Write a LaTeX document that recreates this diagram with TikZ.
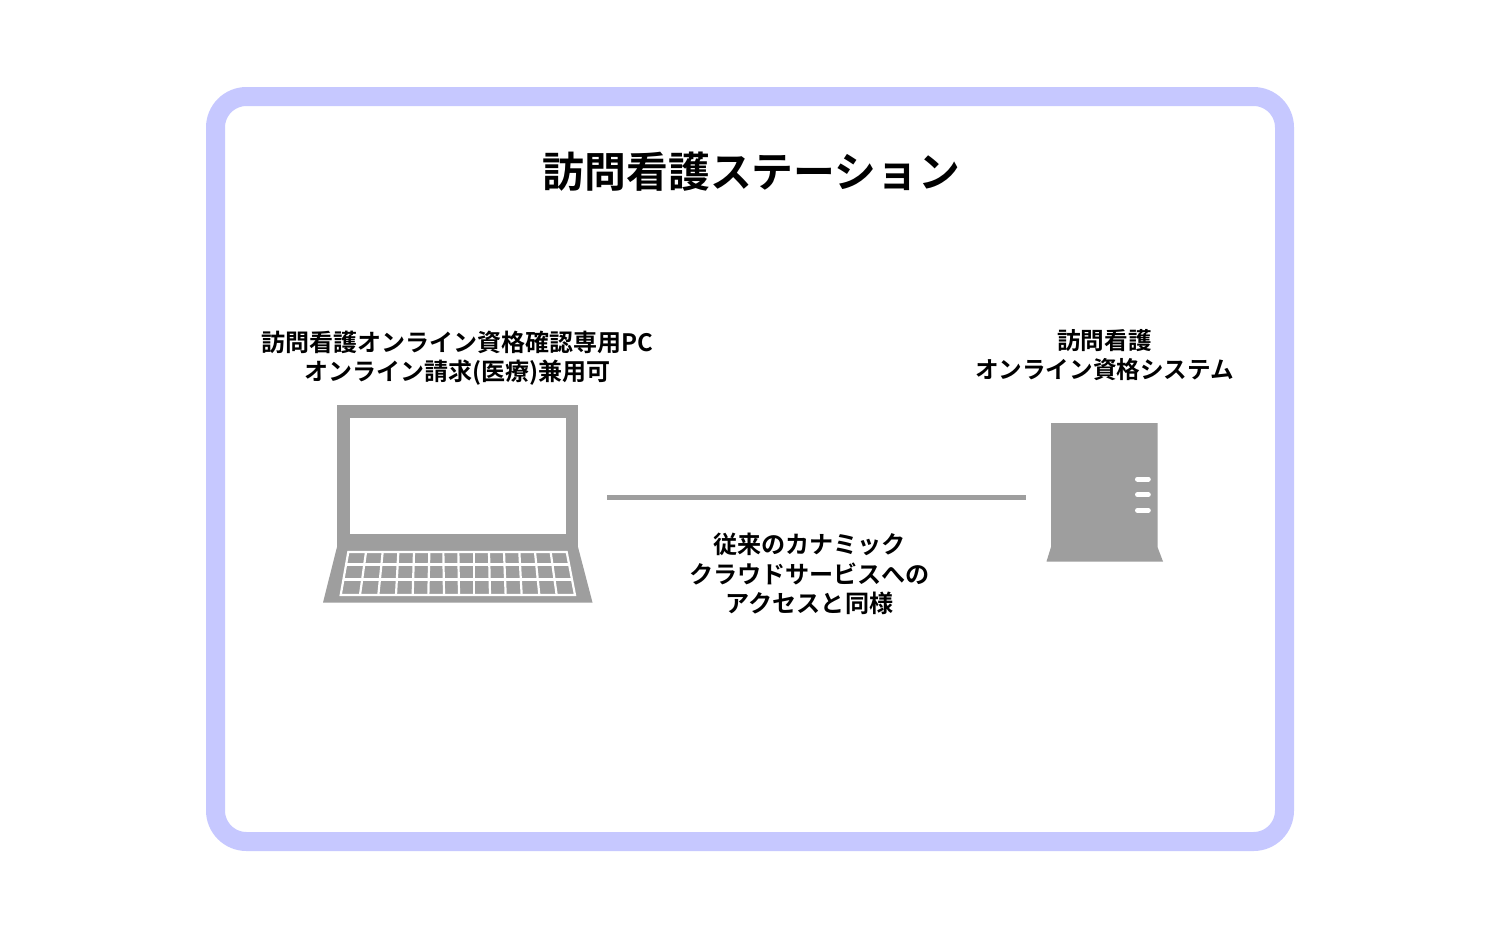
\documentclass[tikz,border=0pt]{standalone}
\usepackage{fontspec}
\setmainfont{Noto Sans CJK JP Bold}
\definecolor{framec}{HTML}{C6C8FF}
\definecolor{devc}{HTML}{9E9E9E}
\tikzset{
  framebox/.style={draw=framec,line width=19pt,fill=white,rounded corners=31pt},
  devbody/.style={fill=devc,draw=none},
  devhole/.style={fill=white,draw=none},
  keyline/.style={draw=white,line width=2.2pt},
  led/.style={draw=white,line width=5pt,line cap=round},
  link/.style={draw=devc,line width=5pt},
  titletext/.style={font=\fontsize{41.8}{50}\selectfont,inner sep=0pt,anchor=center},
  labeltext/.style={font=\fontsize{24.1}{29.5}\selectfont,inner sep=0pt,align=center,anchor=center},
  pctext/.style={font=\fontsize{24}{29}\selectfont,inner sep=0pt,align=center,anchor=center},
  srvtext/.style={font=\fontsize{23.6}{29.5}\selectfont,inner sep=0pt,align=center,anchor=center},
}
\begin{document}
\begin{tikzpicture}[x=1pt,y=-1pt]
\useasboundingbox (0,0) rectangle (1500,938);
\fill[white] (0,0) rectangle (1500,938);
\draw[framebox] (215.5,96.5) rectangle (1284.5,841.5);
\node[titletext] (title) at (751.5,172) {訪問看護ステーション};
\node[pctext] (pclabel) at (457.5,358.5) {訪問看護オンライン資格確認専用PC\\オンライン請求(医療)兼用可};
\node[srvtext] (srvlabel) at (1104.5,355) {訪問看護\\オンライン資格システム};
\node[labeltext] (linklabel) at (809.5,574) {従来のカナミック\\クラウドサービスへの\\アクセスと同様};
% laptop
\fill[devbody] (337,405) rectangle (578,547.5);
\fill[devhole] (350,418) rectangle (566,534);
\fill[devbody] (337,547) -- (578,547) -- (592.5,602.5) -- (323,602.5) -- cycle;
\draw[keyline] (348.3,552) -- (566.7,552) -- (575,595) -- (340.7,595) -- cycle;
\draw[keyline] (345.9,564.5) -- (569.2,564.5);
\draw[keyline] (343,579.5) -- (572,579.5);
\foreach \t/\b in {168/150,218/205,265/258,312/308,358/355,400/402,445/447,492/492,537/540,582/587,628/635,675/688,722/740}{
  \draw[keyline] ({310+\t/3},552) -- ({310+\b/3},595);
}
% server
\fill[devbody] (1051,423) -- (1157.5,423) -- (1157.5,547) -- (1163,561.5) -- (1046.5,561.5) -- (1051,547) -- cycle;
\foreach \y in {479,494.7,510.3}{
  \draw[led] (1137.5,\y) -- (1148.3,\y);
}
% connector
\coordinate (linkA) at (607,497);
\coordinate (linkB) at (1025.5,497);
\draw[link] (linkA) -- (linkB);
\end{tikzpicture}
\end{document}
